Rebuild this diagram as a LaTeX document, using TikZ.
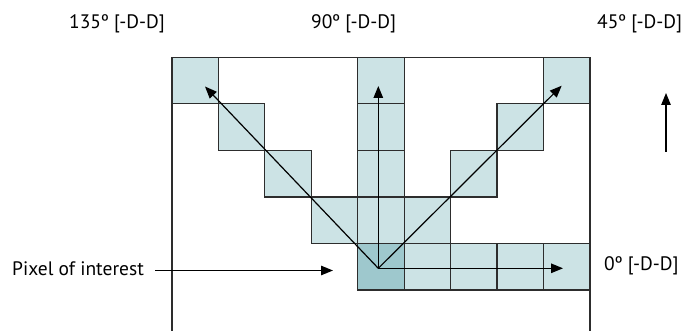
\documentclass[tikz,border=0pt]{standalone}
\usepackage{fontspec}
\setmainfont{PT Sans}
\usetikzlibrary{arrows.meta}
\definecolor{cellfill}{RGB}{204,227,229}
\definecolor{celldark}{RGB}{158,200,205}
\definecolor{gridline}{RGB}{45,45,45}
\begin{document}
\begin{tikzpicture}[x=1pt,y=-1pt,
  cell/.style={draw=gridline, line width=1.2pt, fill=cellfill,
    minimum width=46.44pt, minimum height=46.54pt, inner sep=0pt,
    outer sep=0pt, anchor=north west},
  frame/.style={draw=gridline, line width=1.2pt},
  arr/.style={line width=1.2pt, -{Triangle[length=12pt,width=9.5pt]}},
  lbl/.style={inner sep=0pt, anchor=base west, font=\fontsize{19.5}{23}\selectfont}]
\useasboundingbox (0,0) rectangle (684,331);
% cells
\foreach \c/\r in {0/0,4/0,8/0,1/1,4/1,7/1,2/2,4/2,6/2,3/3,4/3,5/3,5/4,6/4,7/4,8/4}
  \node[cell] (c\c-\r) at ({172+46.44*\c},{57.3+46.54*\r}) {};
\node[cell, fill=celldark] (c4-4) at ({172+46.44*4},{57.3+46.54*4}) {};
% frame
\draw[frame] (172,331) -- (172,57.3) -- (590,57.3) -- (590,331);
% direction arrows
\coordinate (o) at (378.3,268.3);
\coordinate (t135) at (205,86.5);
\coordinate (t90) at (378.3,86);
\coordinate (t45) at (561.7,85.7);
\coordinate (t0) at (563,268.3);
\draw[arr] (o) -- (t135);
\draw[arr] (o) -- (t90);
\draw[arr] (o) -- (t45);
\draw[arr] (o) -- (t0);
% labels
\node[lbl] (l135) at (69,29) {135º [-D-D]};
\node[lbl] (l90) at (311,29) {90º [-D-D]};
\node[lbl] (l45) at (597,29) {45º [-D-D]};
\node[lbl] (l0) at (604,270) {0º [-D-D]};
\node[lbl] (pix) at (12,275) {Pixel of interest};
% pixel of interest arrow
\coordinate (ps) at (155,270.5);
\coordinate (pe) at (333,270.5);
\draw[arr] (ps) -- (pe);
% stand-alone up arrow
\coordinate (us) at (666,152);
\coordinate (ue) at (666,93);
\draw[arr] (us) -- (ue);
\end{tikzpicture}
\end{document}
